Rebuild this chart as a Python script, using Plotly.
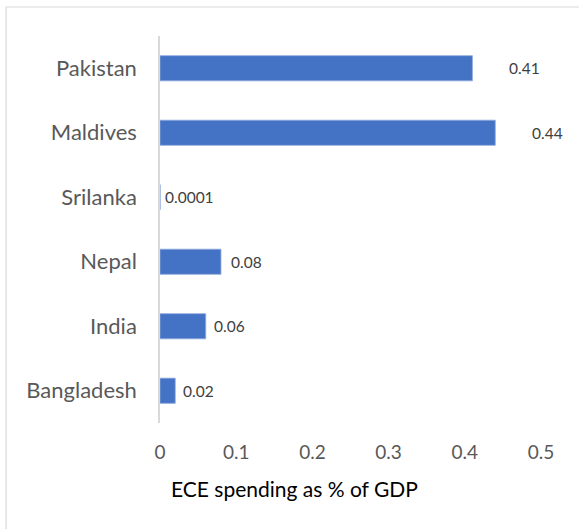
import plotly.graph_objects as go

countries = ["Bangladesh", "India", "Nepal", "Srilanka", "Maldives", "Pakistan"]
spending = [0.02, 0.06, 0.08, 0.0001, 0.44, 0.41]
labels = ["0.02", "0.06", "0.08", "0.0001", "0.44", "0.41"]
label_shift = [6, 6, 8, 3, 35, 35]
x_title = "ECE spending as % of GDP"

fig = go.Figure(go.Bar(
    y=countries,
    x=spending,
    orientation="h",
    width=0.39,
    marker=dict(color="#4472C4", line=dict(color="#8FAADC", width=0.8)),
    hoverinfo="skip",
))

for c, v, t, s in zip(countries, spending, labels, label_shift):
    fig.add_annotation(x=v, y=c, text=t, showarrow=False, xanchor="left",
                       xshift=s, font=dict(family="Lato", size=15.5, color="#404040"))

# axis title sits left of the plot centre, like the original
fig.add_annotation(x=0.354, y=-0.168, xref="paper", yref="paper", text=x_title,
                   showarrow=False, yanchor="middle",
                   font=dict(family="Lato", size=21, color="#000000"))

# partially visible panel label at the top edge
fig.add_annotation(x=0.417, y=1.085, xref="paper", yref="paper", text="(b)",
                   showarrow=False, yanchor="bottom",
                   font=dict(family="Lato", size=18, color="#000000"))

# chart frame
fig.add_shape(type="rect", xref="paper", yref="paper",
              x0=-0.404, x1=1.3, y0=-0.5, y1=1.075,
              line=dict(color="#D9D9D9", width=1.2), layer="below")

fig.update_layout(
    width=579, height=529,
    margin=dict(l=160, r=38, t=36, b=106),
    plot_bgcolor="white", paper_bgcolor="white",
    showlegend=False,
    font=dict(family="Lato", color="#595959"),
)
fig.update_xaxes(range=[0, 0.5], dtick=0.1, showgrid=False, zeroline=False,
                 showline=False, ticks="", tickfont=dict(size=19, color="#595959"),
                 tickformat="~g", ticklabelstandoff=16)
fig.update_yaxes(showgrid=False, zeroline=False, showline=True, linecolor="#D9D9D9",
                 linewidth=1.5, ticks="", tickfont=dict(size=22, color="#595959"),
                 ticklabelstandoff=17)

fig.write_html("out.html", config={"displayModeBar": False},
               post_script="document.body.style.margin='0';")
